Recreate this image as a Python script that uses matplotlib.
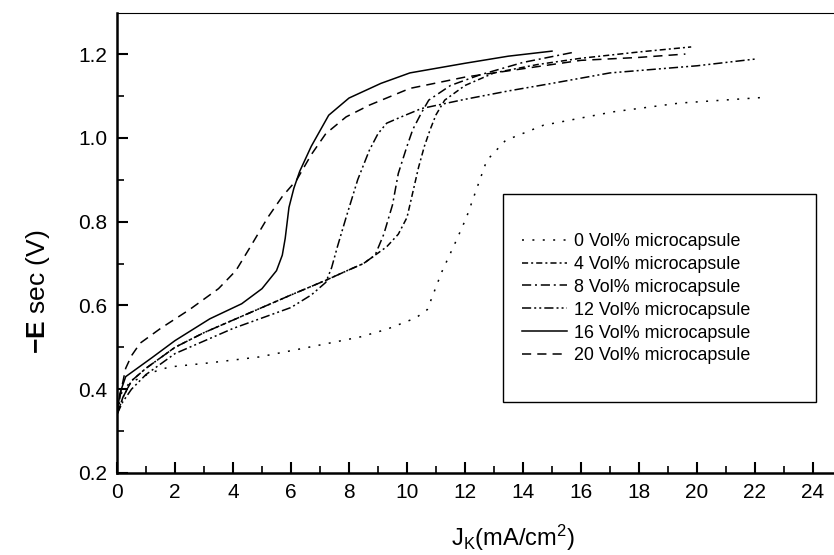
import matplotlib
matplotlib.use("Agg")
import matplotlib.pyplot as plt
from matplotlib.patches import Rectangle
from matplotlib.ticker import MultipleLocator

plt.rcParams['font.family'] = ['Liberation Sans', 'DejaVu Sans']
plt.rcParams['mathtext.fontset'] = 'custom'
plt.rcParams['mathtext.rm'] = 'Liberation Sans'
plt.rcParams['mathtext.bf'] = 'Liberation Sans:bold'
plt.rcParams['mathtext.it'] = 'Liberation Sans:italic'

labels = ["0 Vol% microcapsule", "4 Vol% microcapsule", "8 Vol% microcapsule",
          "12 Vol% microcapsule", "16 Vol% microcapsule", "20 Vol% microcapsule"]

x0 = [0, 0.15, 0.43, 1.2, 1.8, 3.2, 4.9, 6.6, 8.4, 9.3, 10.3, 10.7, 11.2, 11.7, 12.05,
      12.75, 13.4, 14.7, 17.1, 19.4, 22.4]
y0 = [0.34, 0.39, 0.415, 0.44, 0.453, 0.463, 0.477, 0.50, 0.525, 0.543, 0.57, 0.59, 0.68,
      0.755, 0.81, 0.946, 0.994, 1.03, 1.062, 1.083, 1.097]

x4 = [0, 0.2, 0.5, 1.0, 1.5, 2, 3, 4, 5, 6, 7.2, 8, 8.5, 8.9, 9.3, 9.7, 10.0, 10.2, 10.4,
      10.6, 10.8, 11.0, 11.3, 12, 13, 14.5, 16, 18, 19.8]
y4 = [0.34, 0.38, 0.42, 0.45, 0.475, 0.50, 0.535, 0.565, 0.595, 0.625, 0.66, 0.685, 0.70,
      0.72, 0.74, 0.77, 0.81, 0.87, 0.93, 0.98, 1.02, 1.055, 1.09, 1.125, 1.155, 1.175,
      1.19, 1.205, 1.217]

x8 = [0, 0.2, 0.5, 1.0, 1.5, 2, 3, 4, 5, 6, 7.2, 8, 8.5, 8.9, 9.2, 9.5, 9.7, 10.0, 10.2,
      10.5, 10.75, 11.5, 12.5, 14, 15.8]
y8 = [0.34, 0.38, 0.42, 0.45, 0.475, 0.50, 0.535, 0.565, 0.595, 0.625, 0.66, 0.685, 0.70,
      0.72, 0.77, 0.84, 0.915, 0.98, 1.02, 1.06, 1.09, 1.125, 1.15, 1.18, 1.205]

x12 = [0, 0.2, 0.5, 1.0, 1.5, 2, 3, 4, 5, 6, 6.7, 7.2, 7.4, 7.6, 7.9, 8.3, 8.7, 9.0, 9.3,
       9.8, 10.5, 12, 13.5, 15, 17, 20, 22]
y12 = [0.34, 0.37, 0.40, 0.435, 0.46, 0.485, 0.515, 0.545, 0.57, 0.595, 0.625, 0.655, 0.69,
       0.74, 0.81, 0.90, 0.97, 1.01, 1.035, 1.05, 1.07, 1.092, 1.112, 1.13, 1.155, 1.172, 1.188]

x16 = [0, 0.1, 0.3, 0.7, 1.2, 2, 3.2, 4.3, 5.0, 5.5, 5.7, 5.8, 5.93, 6.1, 6.3, 6.7, 7.3, 8,
       9.1, 10.1, 12, 13.5, 15]
y16 = [0.34, 0.39, 0.43, 0.45, 0.475, 0.516, 0.568, 0.604, 0.64, 0.683, 0.72, 0.76, 0.834,
       0.88, 0.92, 0.98, 1.054, 1.095, 1.13, 1.155, 1.178, 1.195, 1.207]

x20 = [0, 0.15, 0.3, 0.5, 0.8, 1.5, 2.5, 3.5, 4.1, 4.6, 5.2, 5.7, 6.2, 6.7, 7.2, 7.9, 8.7,
       10.1, 12, 14, 16, 18, 19.6]
y20 = [0.34, 0.40, 0.45, 0.48, 0.51, 0.545, 0.59, 0.64, 0.683, 0.74, 0.81, 0.86, 0.90, 0.96,
       1.01, 1.05, 1.078, 1.118, 1.145, 1.165, 1.185, 1.192, 1.20]

xticks = [0, 2, 4, 6, 8, 10, 12, 14, 16, 18, 20, 22, 24]
yticks = [0.2, 0.4, 0.6, 0.8, 1.0, 1.2]

series = [(x0, y0), (x4, y4), (x8, y8), (x12, y12), (x16, y16), (x20, y20)]
styles = [(0, (1.3, 5.5)), (0, (4, 2, 1.3, 2)), (0, (6, 2.5, 1.3, 2.5)),
          (0, (6, 2, 1.3, 2, 1.3, 2)), '-', (0, (6, 4))]

fig = plt.figure(figsize=(8.34, 5.55), dpi=100)
ax = fig.add_axes([117 / 834, 82 / 555, 1 - 117 / 834, 460 / 555])

for (xs, ys), ls, lab in zip(series, styles, labels):
    ax.plot(xs, ys, color='black', lw=1.1, linestyle=ls, label=lab)

ax.set_xlim(0, 717 / 29)
ax.set_ylim(0.2, 1.298)
ax.set_xticks(xticks)
ax.set_yticks(yticks)
ax.set_xticklabels([str(t) for t in xticks])
ax.set_yticklabels([f"{t:.1f}" for t in yticks])
ax.xaxis.set_minor_locator(MultipleLocator(1))
ax.yaxis.set_minor_locator(MultipleLocator(0.1))
ax.tick_params(which='major', direction='in', length=8, width=1.5, labelsize=15, pad=7)
ax.tick_params(which='minor', direction='in', length=5, width=1.2)
ax.tick_params(top=False, right=False, which='both')
ax.spines['right'].set_visible(False)
ax.spines['left'].set_linewidth(1.8)
ax.spines['bottom'].set_linewidth(1.8)
ax.spines['top'].set_linewidth(0.8)

fig.text(0.046, 0.475, r'$\mathbf{-E}$ sec (V)', rotation=90, fontsize=19,
         ha='center', va='center')
fig.text(0.615, 0.03, r'J$_\mathrm{K}$(mA/cm$^2$)', fontsize=17, ha='center', va='center')

ax.add_patch(Rectangle((0.538, 0.154), 0.437, 0.4525, transform=ax.transAxes,
                       fill=False, lw=1.0, ec='black'))
leg = ax.legend(loc='upper left', bbox_to_anchor=(0.565, 0.522), frameon=False,
                fontsize=12.9, handlelength=2.5, handletextpad=0.4, labelspacing=0.33,
                borderpad=0, borderaxespad=0)

fig.savefig('out.png', dpi=100)
